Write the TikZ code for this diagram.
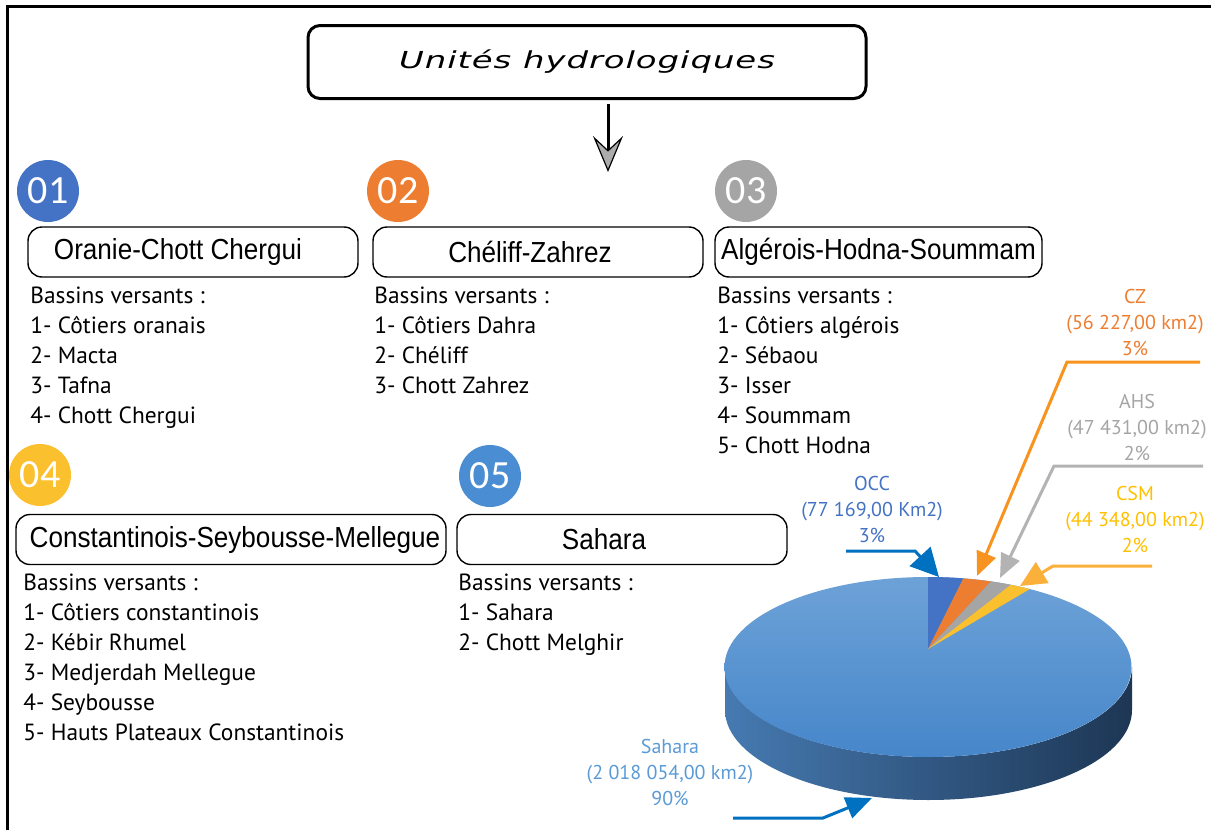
\documentclass[tikz,border=0pt]{standalone}
\usepackage{fontspec}
\setmainfont{PT Sans}
\newfontfamily\boxfont[FakeStretch=0.9]{Liberation Sans}
\newfontfamily\titlefont[FakeStretch=1.45, LetterSpace=4]{DejaVu Sans}
\newfontfamily\numfont{Carlito}
\usetikzlibrary{arrows.meta, positioning, calc}

\definecolor{occblue}{HTML}{4472C4}
\definecolor{czorange}{HTML}{ED7D31}
\definecolor{ahsgray}{HTML}{A5A5A5}
\definecolor{csmyellow}{HTML}{FBC02D}
\definecolor{sahblue}{HTML}{4A8DD3}
\definecolor{sahtext}{HTML}{5B9BD5}
\definecolor{csmtext}{HTML}{FFC000}
\definecolor{arrblue}{HTML}{0070C0}
\definecolor{arrorange}{HTML}{F7931E}
\definecolor{arrgray}{HTML}{B3B3B3}
\definecolor{arryellow}{HTML}{FBB03B}
\definecolor{topface}{HTML}{6DA2D7}
\definecolor{topfacedk}{HTML}{4686CA}
\definecolor{sideL}{HTML}{467AB1}
\definecolor{sideM}{HTML}{2D5A8A}
\definecolor{sideR}{HTML}{1D3654}

\tikzset{
  unitbox/.style={draw=black, line width=0.7pt, rounded corners=7pt,
    minimum height=25pt, inner sep=0pt,
    font=\boxfont\fontsize{14.5}{17}\selectfont},
  numdot/.style={circle, fill=#1, text=white, minimum size=31pt, inner sep=0pt,
    font=\numfont\fontsize{20}{20}\selectfont},
  basin/.style={anchor=north west, align=left, inner sep=0pt,
    font=\fontsize{11.7}{15}\selectfont},
  pielabel/.style={align=center, inner sep=0pt, text=#1,
    font=\fontsize{10}{13}\selectfont},
  callout/.style={draw=#1, line width=1.5pt, -{Triangle[length=12pt,width=10pt]}}
}

\begin{document}
\begin{tikzpicture}[x=0.5pt, y=-0.5pt]
  \useasboundingbox (0,0) rectangle (1211,830);
  \fill[white] (0,0) rectangle (1211,830);
  % frame
  \draw[line width=1.5pt] (7,830) -- (7,6) -- (1211,6);

  % title
  \node[draw=black, line width=1.5pt, rounded corners=6pt, minimum width=279pt,
    minimum height=36.5pt, font=\titlefont\itshape\fontsize{11.7}{14}\selectfont]
    (title) at (587,62) {Unités hydrologiques};
  \coordinate (ttop) at (608,104);
  \coordinate (ttip) at (608,172);
  \draw[line width=1.5pt, -{Stealth[length=18pt,width=15pt,inset=7pt,fill=gray!65,line width=0.6pt]}]
    (ttop) -- (ttip);

  % numbers
  \node[numdot=occblue] (n01) at (48,191) {01};
  \node[numdot=czorange] (n02) at (398,191) {02};
  \node[numdot=ahsgray] (n03) at (746,191) {03};
  \node[numdot=csmyellow] (n04) at (40,475) {04};
  \node[numdot=sahblue] (n05) at (490,476) {05};

  % unit boxes
  \node[unitbox, minimum width=165pt] (occ) at (193,252) {Oranie-Chott Chergui\hspace*{15pt}};
  \node[unitbox, minimum width=165pt] (cz) at (538,252) {Chéliff-Zahrez\hspace*{8pt}};
  \node[unitbox, minimum width=163.5pt] (ahs) at (878.5,252) {Algérois-Hodna-Soummam};
  \node[unitbox, minimum width=215pt] (csm) at (231,539.5) {\hspace*{4pt}Constantinois-Seybousse-Mellegue};
  \node[unitbox, minimum width=165pt] (sah) at (622,539.5) {Sahara\hspace*{18pt}};

  % basins
  \node[basin] (occlist) at (30,287) {Bassins versants :\\1- Côtiers oranais\\2- Macta\\3- Tafna\\4- Chott Chergui};
  \node[basin] (czlist) at (374,287) {Bassins versants :\\1- Côtiers Dahra\\2- Chéliff\\3- Chott Zahrez};
  \node[basin] (ahslist) at (717,287) {Bassins versants :\\1- Côtiers algérois\\2- Sébaou\\3- Isser\\4- Soummam\\5- Chott Hodna};
  \node[basin] (csmlist) at (23,574) {Bassins versants :\\1- Côtiers constantinois\\2- Kébir Rhumel\\3- Medjerdah Mellegue\\4- Seybousse\\5- Hauts Plateaux Constantinois};
  \node[basin] (sahlist) at (458,574) {Bassins versants :\\1- Sahara\\2- Chott Melghir};

  % pie
  \coordinate (pc) at (928,667);
  \coordinate (apex) at (928,649);
  \shade[left color=sideL, middle color=sideM, right color=sideR]
    (725,667) -- (725,710) arc[start angle=180, end angle=0, x radius=203.5, y radius=90]
    -- (1132,667) arc[start angle=0, end angle=180, x radius=203.5, y radius=90] -- cycle;
  \shade[top color=topface, bottom color=topfacedk] (pc) ellipse[x radius=203.5, y radius=90];
  \foreach \a/\b/\c in {270/280/occblue, 280/288/czorange, 288/294/ahsgray, 294/300/csmyellow}
    \fill[\c] (apex) -- ([shift={(\a:203.5 and 90)}]pc)
      arc[start angle=\a, end angle=\b, x radius=203.5, y radius=90] -- cycle;

  % pie labels
  \node[pielabel=occblue] (occlbl) at (872,509) {OCC\\(77 169,00 Km2)\\3\%};
  \node[pielabel=czorange] (czlbl) at (1135,322) {CZ\\(56 227,00 km2)\\3\%};
  \node[pielabel=ahsgray] (ahslbl) at (1137,427) {AHS\\(47 431,00 km2)\\2\%};
  \node[pielabel=csmtext] (csmlbl) at (1135,519) {CSM\\(44 348,00 km2)\\2\%};
  \node[pielabel=sahtext] (sahlbl) at (670,772) {Sahara\\(2 018 054,00 km2)\\90\%};

  % callouts
  \coordinate (occa) at (846,551);
  \coordinate (occb) at (915,551);
  \coordinate (occt) at (939,577);
  \coordinate (cza) at (1200,362);
  \coordinate (czb) at (1067,362);
  \coordinate (czt) at (977,576);
  \coordinate (ahsa) at (1203,466);
  \coordinate (ahsb) at (1054,466);
  \coordinate (ahst) at (1000,578);
  \coordinate (csma) at (1152,566);
  \coordinate (csmb) at (1053,566);
  \coordinate (csmt) at (1020,586);
  \coordinate (saha) at (733,818);
  \coordinate (sahb) at (823,818);
  \coordinate (saht) at (872,798);
  \draw[callout=arrblue, -{Triangle[length=14pt,width=14pt]}] (occa) -- (occb) -- (occt);
  \draw[callout=arrorange] (cza) -- (czb) -- (czt);
  \draw[callout=arrgray] (ahsa) -- (ahsb) -- (ahst);
  \draw[callout=arryellow, -{Triangle[length=13pt,width=12pt]}] (csma) -- (csmb) -- (csmt);
  \draw[callout=arrblue, -{Triangle[length=13pt,width=11pt]}] (saha) -- (sahb) -- (saht);
\end{tikzpicture}
\end{document}
